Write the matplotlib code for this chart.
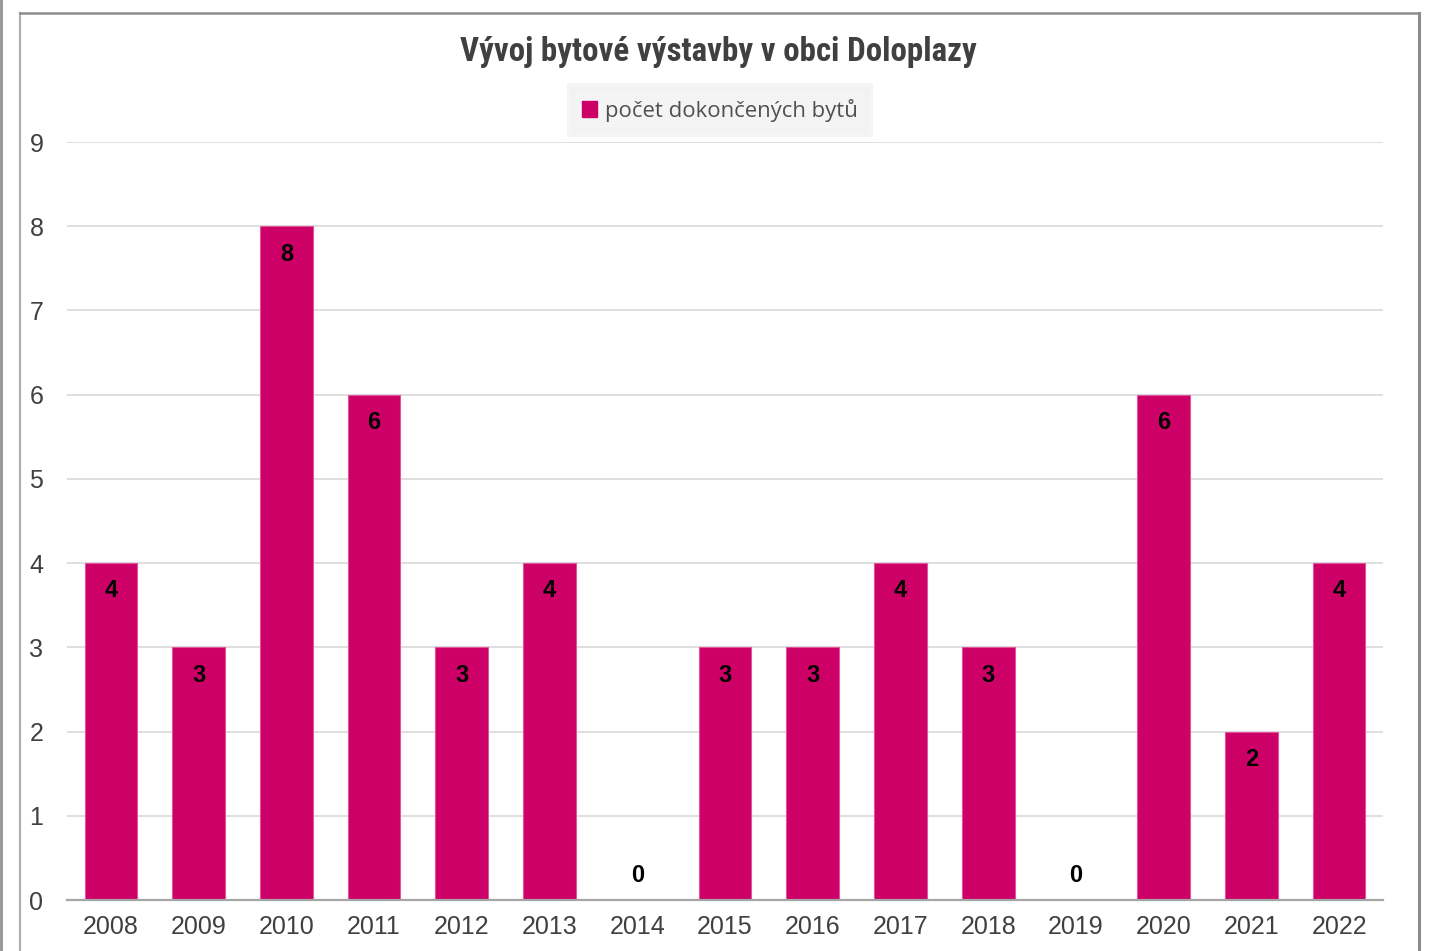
import matplotlib
matplotlib.use("Agg")
import matplotlib.pyplot as plt
from matplotlib import font_manager
from matplotlib.lines import Line2D
from matplotlib.patches import Patch, Rectangle

years = ["2008", "2009", "2010", "2011", "2012", "2013", "2014", "2015",
         "2016", "2017", "2018", "2019", "2020", "2021", "2022"]
completed = [4, 3, 8, 6, 3, 4, 0, 3, 3, 4, 3, 0, 6, 2, 4]
y_ticks = list(range(0, 10))

title = "Vývoj bytové výstavby v obci Doloplazy"
series_name = "počet dokončených bytů"

BAR = "#CC0066"
W, H = 1430, 951

installed = {f.name for f in font_manager.fontManager.ttflist}
narrow_candidates = ["Liberation Sans Narrow", "Roboto Condensed",
                     "DejaVu Sans Condensed", "Liberation Sans"]
title_font = next(f for f in narrow_candidates if f in installed)

fig = plt.figure(figsize=(W / 100, H / 100), dpi=100)
fig.patch.set_facecolor("white")

# thin strip along the left edge
fig.add_artist(Rectangle((0, 0), 2.5 / W, 1, transform=fig.transFigure,
                         facecolor="#9a9a9a", edgecolor="none"))
# outer chart frame (left, top, right)
fx0, fx1, fy1 = 19.5 / W, 1419 / W, 1 - 12.5 / H
fig.add_artist(Line2D([fx0, fx0], [0, fy1], transform=fig.transFigure, color="#b0b0b0", lw=1.6))
fig.add_artist(Line2D([fx0, fx1], [fy1, fy1], transform=fig.transFigure, color="#8c8c8c", lw=1.8))
fig.add_artist(Line2D([fx1, fx1], [fy1, 0], transform=fig.transFigure, color="#8c8c8c", lw=2.2))

ax = fig.add_axes([67 / W, 1 - 900 / H, (1383 - 67) / W, (900 - 142) / H])
x = list(range(len(years)))
ax.bar(x, completed, width=0.6, color=BAR, edgecolor="#e3559a", linewidth=0.8, zorder=3)

ax.set_xlim(-0.5, len(years) - 0.5)
ax.set_ylim(0, 9)
ax.set_yticks(y_ticks)
ax.set_xticks(x)
ax.set_xticklabels(years)
ax.grid(axis="y", color="#d9d9d9", linewidth=1.2, zorder=0)
for s in ["top", "right", "left"]:
    ax.spines[s].set_visible(False)
ax.spines["bottom"].set_color("#a6a6a6")
ax.spines["bottom"].set_linewidth(1.6)
ax.spines["bottom"].set_zorder(4)
ax.tick_params(axis="both", length=0, labelsize=18, labelcolor="#404040")
ax.tick_params(axis="y", pad=17)
ax.tick_params(axis="x", pad=11)
for lbl in ax.get_xticklabels() + ax.get_yticklabels():
    lbl.set_family("Liberation Sans")

# value labels
for xi, v in zip(x, completed):
    off = -20 if v > 0 else 17.5
    ax.annotate(str(v), (xi, v), xytext=(0, off), textcoords="offset points",
                ha="center", va="center", fontsize=17, fontweight="bold",
                family="Liberation Sans", color="black", zorder=5)

fig.text(718 / W, 1 - 52 / H, title, ha="center", va="center", fontsize=23.8,
         fontweight="bold", color="#404040", family=title_font)

leg = fig.legend(handles=[Patch(facecolor=BAR, edgecolor=BAR)], labels=[series_name],
                 loc="center", bbox_to_anchor=(720 / W, 1 - 110 / H),
                 frameon=True, fancybox=False, handlelength=0.7,
                 handleheight=0.7, handletextpad=0.35, borderpad=0.5, borderaxespad=0,
                 prop={"family": "Open Sans", "size": 15.9})
leg.get_frame().set_facecolor("#f2f2f2")
leg.get_frame().set_edgecolor("#f2f2f2")
leg.get_frame().set_linewidth(6)
for t in leg.get_texts():
    t.set_color("#505050")

fig.savefig("out.png", dpi=100, facecolor="white")
